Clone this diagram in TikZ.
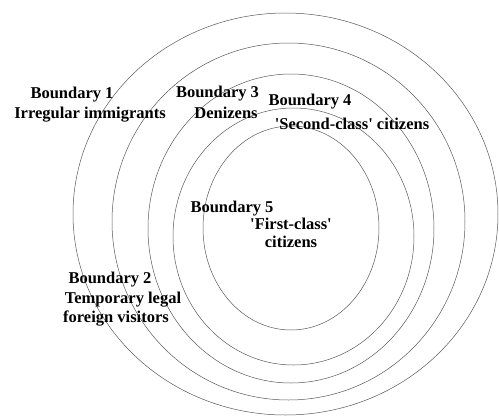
\documentclass[tikz,border=0pt]{standalone}
\usepackage{fontspec}
\newfontfamily\labfont{Liberation Serif}
\tikzset{
  ring/.style={draw=black!65,line width=.5pt},
  lbl/.style={font=\labfont\bfseries\fontsize{16.5}{18}\selectfont,inner sep=0pt,anchor=base}
}
\begin{document}
\begin{tikzpicture}[x=1pt,y=-1pt]
  \useasboundingbox (0,0) rectangle (499,416);
  \draw[ring] (285.5,214) ellipse [x radius=212.5pt,y radius=201pt];
  \draw[ring] (288.5,221.5) ellipse [x radius=176.5pt,y radius=178.5pt];
  \draw[ring] (291,228.5) ellipse [x radius=143pt,y radius=154.5pt];
  \draw[ring] (293.5,236.5) ellipse [x radius=120.5pt,y radius=128.5pt];
  \draw[ring] (291,228) ellipse [x radius=88pt,y radius=102pt];
  \node[lbl] (b1) at (72,98) {Boundary 1};
  \node[lbl] (b1t) at (90,118) {Irregular immigrants};
  \node[lbl] (b2) at (110,283) {Boundary 2};
  \node[lbl] (b2t) at (123,303) {Temporary legal};
  \node[lbl] (b2u) at (116,322) {foreign visitors};
  \node[lbl] (b3) at (217.5,97) {Boundary 3};
  \node[lbl] (b3t) at (226,118) {Denizens};
  \node[lbl] (b4) at (310,105) {Boundary 4};
  \node[lbl] (b4t) at (352,129) {'Second-class' citizens};
  \node[lbl] (b5) at (232,212) {Boundary 5};
  \node[lbl] (b5t) at (291,229) {'First-class'};
  \node[lbl] (b5u) at (291,247) {citizens};
\end{tikzpicture}
\end{document}
